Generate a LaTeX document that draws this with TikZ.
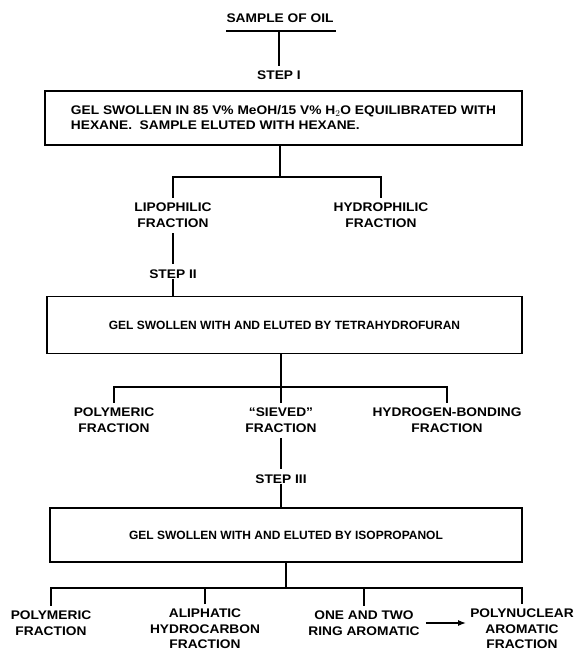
\documentclass[tikz,border=0pt]{standalone}
\usepackage{fontspec}
\setmainfont{Liberation Sans}
\newfontfamily\widefont{Liberation Sans}[FakeStretch=1.1,Ligatures=TeX]
\usetikzlibrary{arrows.meta}
\begin{document}
\begin{tikzpicture}[x=1pt,y=-1pt,
  txt/.style={font=\widefont\bfseries\fontsize{12.5}{15.5}\selectfont, inner sep=0pt, align=center},
  boxtxt/.style={font=\bfseries\fontsize{12}{15}\selectfont},
  box/.style={draw, line width=1.4pt, inner sep=0pt},
  conn/.style={line width=1.5pt}]
\useasboundingbox (0,0) rectangle (577,657);
% top
\node[txt] (oil) at (280,18) {SAMPLE OF OIL};
\coordinate (ulL) at (226,31); \coordinate (ulR) at (336,31); \coordinate (ulM) at (279,31);
\draw[conn] (ulL) -- (ulR);
\node[txt] (s1) at (279,75) {STEP I};
\draw[conn] (ulM) -- ([yshift=4pt]s1.north);
% box 1
\node[box, minimum width=477pt, minimum height=54pt, align=left,
      font=\widefont\bfseries\fontsize{12.5}{15}\selectfont] (b1) at (283.5,118)
  {GEL SWOLLEN IN 85 V\% MeOH/15 V\% H$_2$O EQUILIBRATED WITH\\HEXANE.\ \ SAMPLE ELUTED WITH HEXANE.};
\node[txt] (lip) at (173,215) {LIPOPHILIC\\FRACTION};
\node[txt] (hyd) at (381,215) {HYDROPHILIC\\FRACTION};
\coordinate (j1) at (280,177);
\draw[conn] (b1.south -| j1) -- (j1);
\draw[conn] ([yshift=5pt]lip.north) |- (j1) -| ([yshift=5pt]hyd.north);
\node[txt] (s2) at (173,274) {STEP II};
\draw[conn] ([yshift=-6pt]lip.south) -- ([yshift=5pt]s2.north);
% box 2
\node[box, minimum width=475pt, minimum height=57pt, boxtxt] (b2) at (284.5,325)
  {GEL SWOLLEN WITH AND ELUTED BY TETRAHYDROFURAN};
\draw[conn] (s2.south) -- (s2.south |- b2.north);
\node[txt] (pol1) at (114,420) {POLYMERIC\\FRACTION};
\node[txt] (siev) at (281,420) {``SIEVED''\\FRACTION};
\node[txt] (hbond) at (447,420) {HYDROGEN-BONDING\\FRACTION};
\coordinate (j2) at (281,387);
\draw[conn] (b2.south -| j2) -- (j2);
\draw[conn] ([yshift=5pt]pol1.north) |- (j2) -| ([yshift=5pt]hbond.north);
\draw[conn] (j2) -- ([yshift=5pt]siev.north);
\node[txt] (s3) at (281,479) {STEP III};
\draw[conn] ([yshift=-6pt]siev.south) -- ([yshift=5pt]s3.north);
% box 3
\node[box, minimum width=472pt, minimum height=54pt, boxtxt] (b3) at (286,535)
  {GEL SWOLLEN WITH AND ELUTED BY ISOPROPANOL};
\draw[conn] (s3.south) -- (s3.south |- b3.north);
\node[txt] (pol2) at (51,623) {POLYMERIC\\FRACTION};
\node[txt, anchor=north] (ali) at (205,609) {ALIPHATIC\\HYDROCARBON\\FRACTION};
\node[txt] (ring) at (364,623) {ONE AND TWO\\RING AROMATIC};
\node[txt, anchor=north] (pna) at (522,609) {POLYNUCLEAR\\AROMATIC\\FRACTION};
\coordinate (j3) at (286,588);
\draw[conn] (b3.south -| j3) -- (j3);
\draw[conn] ([yshift=5pt]pol2.north) |- (j3) -| ([yshift=5pt]pna.north);
\draw[conn] ([yshift=5pt]ali.north) -- (ali.north |- j3);
\draw[conn] ([yshift=5pt]ring.north) -- (ring.north |- j3);
\draw[conn, -{Latex[length=8pt,width=6pt]}] ([xshift=6pt]ring.east) -- ([xshift=-4pt]pna.west |- ring.east);
\end{tikzpicture}
\end{document}
